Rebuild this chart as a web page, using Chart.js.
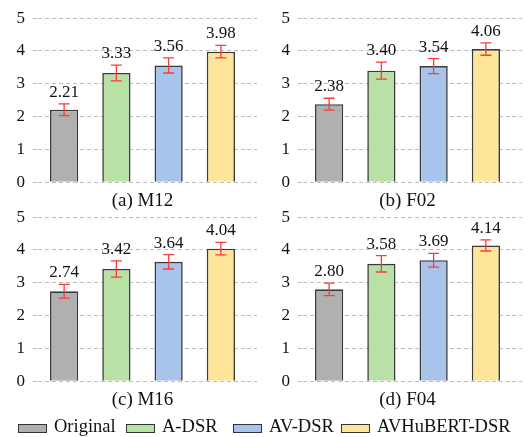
<!DOCTYPE html>
<html>
<head>
<meta charset="utf-8">
<script src="https://cdn.jsdelivr.net/npm/chart.js@4.4.1/dist/chart.umd.min.js"></script>
<style>
  html, body { margin: 0; padding: 0; background: #fff; }
  #quadro { position: relative; width: 531px; height: 437px; overflow: hidden; }
  .painel { position: absolute; width: 265px; height: 212px; }
  .item {
    position: absolute; top: 416px; height: 20px; line-height: 20px;
    font-family: "Liberation Serif", "Times New Roman", serif; font-size: 18.5px;
    color: #111; white-space: nowrap;
  }
  .amostra { position: absolute; left: 0; top: 8px; width: 27px; height: 7px; border: 1px solid #333; }
  .rotulo { position: absolute; left: 36px; top: 0; }
</style>
</head>
<body>
<div id="quadro">
  <canvas id="graficoM12" class="painel" width="265" height="212" style="left:0;top:0"></canvas>
  <canvas id="graficoF02" class="painel" width="265" height="212" style="left:265px;top:0"></canvas>
  <canvas id="graficoM16" class="painel" width="265" height="212" style="left:0;top:199px"></canvas>
  <canvas id="graficoF04" class="painel" width="265" height="212" style="left:265px;top:199px"></canvas>
  <div id="legenda"></div>
</div>
<script>
const categorias = ["Original", "A-DSR", "AV-DSR", "AVHuBERT-DSR"];
const cores = ["#b0b0b0", "#b9e0a5", "#a9c4eb", "#ffe599"];
const titulos = ["(a) M12", "(b) F02", "(c) M16", "(d) F04"];

const mediasM12 = [2.21, 3.33, 3.56, 3.98];
const errosM12 = [0.18, 0.24, 0.23, 0.19];
const mediasF02 = [2.38, 3.40, 3.54, 4.06];
const errosF02 = [0.18, 0.26, 0.23, 0.19];
const mediasM16 = [2.74, 3.42, 3.64, 4.04];
const errosM16 = [0.21, 0.25, 0.22, 0.19];
const mediasF04 = [2.80, 3.58, 3.69, 4.14];
const errosF04 = [0.19, 0.25, 0.21, 0.17];

const yTicks = [0, 1, 2, 3, 4, 5];

document.addEventListener("DOMContentLoaded", function () {
  if (typeof Chart === "undefined") {
    console.error("Chart.js não foi carregado.");
    return;
  }

  Chart.defaults.font.family = "'Liberation Serif', 'Times New Roman', serif";
  Chart.defaults.color = "#111";

  const corGrade = "#bdbdbd";
  const tracoGrade = [4, 3];

  // desenha as barras de erro e o valor acima de cada barra
  const barrasErro = {
    id: "barrasErro",
    afterDatasetsDraw(chart, args, opts) {
      const ctx = chart.ctx;
      const escalaY = chart.scales.y;
      const valores = chart.data.datasets[0].data;
      const meta = chart.getDatasetMeta(0);

      ctx.save();
      meta.data.forEach((barra, i) => {
        const media = valores[i];
        const erro = opts.erros[i];
        const topo = escalaY.getPixelForValue(media + erro);
        const base = escalaY.getPixelForValue(media - erro);

        ctx.strokeStyle = "#fa3c3c";
        ctx.lineWidth = 1.3;
        ctx.beginPath();
        ctx.moveTo(barra.x, topo);
        ctx.lineTo(barra.x, base);
        ctx.moveTo(barra.x - 5.5, topo);
        ctx.lineTo(barra.x + 5.5, topo);
        ctx.moveTo(barra.x - 5.5, base);
        ctx.lineTo(barra.x + 5.5, base);
        ctx.stroke();

        ctx.fillStyle = "#111";
        ctx.font = "17px 'Liberation Serif', 'Times New Roman', serif";
        ctx.textAlign = "center";
        ctx.textBaseline = "alphabetic";
        ctx.fillText(media.toFixed(2), barra.x, topo - 7);
      });
      ctx.restore();
    }
  };

  function criarGrafico(id, titulo, medias, erros) {
    const canvas = document.getElementById(id);
    if (!canvas) return null;

    return new Chart(canvas, {
      type: "bar",
      data: {
        labels: categorias,
        datasets: [
          {
            data: medias,
            backgroundColor: cores,
            borderColor: "#3a3a3a",
            borderWidth: 1.6,
            barPercentage: 0.54,
            categoryPercentage: 1
          }
        ]
      },
      options: {
        responsive: false,
        animation: false,
        devicePixelRatio: 1,
        layout: { padding: { left: 0, right: 8, top: 15, bottom: 0 } },
        plugins: {
          legend: { display: false },
          tooltip: { enabled: false },
          barrasErro: { erros: erros }
        },
        scales: {
          x: {
            grid: { display: false, drawTicks: false },
            border: { display: false },
            ticks: { display: false },
            title: {
              display: true,
              text: titulo,
              color: "#111",
              font: { size: 19 },
              padding: { top: 7, bottom: 0 }
            }
          },
          y: {
            min: 0,
            max: 5,
            afterBuildTicks: escala => {
              escala.ticks = yTicks.map(v => ({ value: v }));
            },
            ticks: { color: "#111", font: { size: 17 }, padding: 8 },
            grid: {
              color: corGrade,
              tickColor: corGrade,
              tickLength: 5,
              tickBorderDash: tracoGrade
            },
            border: { display: false, dash: tracoGrade },
            afterFit: escala => {
              escala.width = 38;
            }
          },
          y2: {
            position: "right",
            display: true,
            min: 0,
            max: 5,
            afterBuildTicks: escala => {
              escala.ticks = yTicks.map(v => ({ value: v }));
            },
            ticks: { display: false },
            grid: {
              drawOnChartArea: false,
              color: corGrade,
              tickColor: corGrade,
              tickLength: 10,
              tickBorderDash: tracoGrade
            },
            border: { display: false }
          }
        }
      },
      plugins: [barrasErro]
    });
  }

  criarGrafico("graficoM12", titulos[0], mediasM12, errosM12);
  criarGrafico("graficoF02", titulos[1], mediasF02, errosF02);
  criarGrafico("graficoM16", titulos[2], mediasM16, errosM16);
  criarGrafico("graficoF04", titulos[3], mediasF04, errosF04);

  // legenda comum aos quatro painéis
  const legenda = document.getElementById("legenda");
  categorias.forEach((nome, i) => {
    const item = document.createElement("div");
    item.className = "item";
    item.style.left = Math.round(18 + i * 107.7) + "px";

    const amostra = document.createElement("span");
    amostra.className = "amostra";
    amostra.style.background = cores[i];

    const rotulo = document.createElement("span");
    rotulo.className = "rotulo";
    rotulo.textContent = nome;

    item.appendChild(amostra);
    item.appendChild(rotulo);
    legenda.appendChild(item);
  });
});
</script>
</body>
</html>
